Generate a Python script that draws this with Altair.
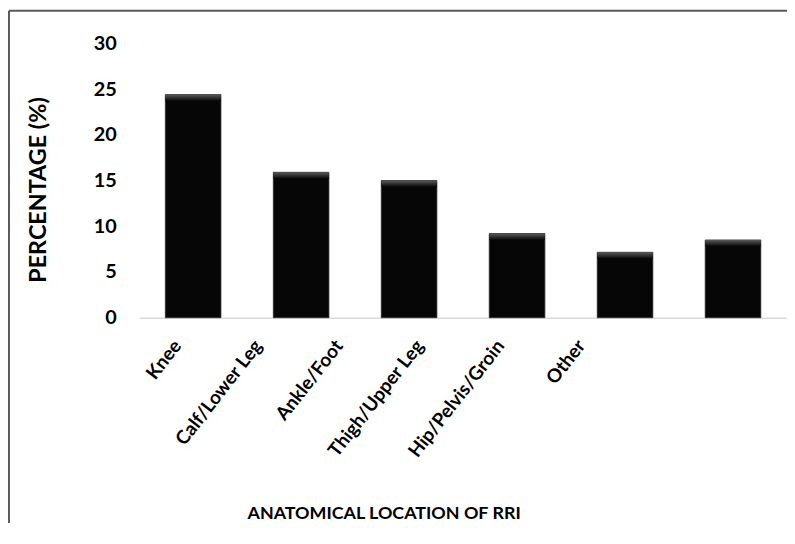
import altair as alt
import pandas as pd

categories = ["Knee", "Calf/Lower Leg", "Ankle/Foot", "Thigh/Upper Leg", "Hip/Pelvis/Groin", "Other"]
values = [24.4, 15.9, 15.0, 9.2, 7.15, 8.5]

df = pd.DataFrame({"location": categories, "pct": values})
FONT = "Lato"

yenc = alt.Y("pct:Q", scale=alt.Scale(domain=[0, 30], nice=False),
             axis=alt.Axis(title="PERCENTAGE (%)", values=[0, 5, 10, 15, 20, 25, 30],
                           ticks=False, domain=False, grid=False, labelPadding=23,
                           labelFont=FONT, labelFontSize=20, labelFontWeight="bold",
                           labelColor="#000000",
                           titleFont=FONT, titleFontSize=23.5, titleFontWeight="bold",
                           titleColor="#000000", titleX=-89, titleY=147,
                           titleAngle=-90, titleAnchor="middle"))

xbar = alt.X("location:N", sort=categories,
             scale=alt.Scale(paddingInner=0.485, paddingOuter=0.2425),
             axis=alt.Axis(title=None, labels=False, ticks=False, orient="bottom",
                           domainColor="#d9d9d9", domainWidth=1.5))

bars = alt.Chart(df).mark_bar(color="#060606", stroke="#2a2a2a", strokeWidth=0.8).encode(
    x=xbar, y=yenc,
)

# light bevel along the top of each bar
bevel = alt.Chart(df).transform_calculate(top2="datum.pct - 0.7").mark_bar(
    color=alt.Gradient(gradient="linear", x1=0, y1=0, x2=0, y2=1,
                       stops=[alt.GradientStop(color="#5a5a5a", offset=0),
                              alt.GradientStop(color="#060606", offset=1)])
).encode(x=xbar, y=alt.Y("pct:Q"), y2="top2:Q")

# category labels sit on a narrower scale, as in the original figure
labels = alt.Chart(df).mark_point(opacity=0).encode(
    x=alt.X("location:N", sort=categories,
            scale=alt.Scale(type="point", range=[31, 437.5], padding=0),
            axis=alt.Axis(title="ANATOMICAL LOCATION OF RRI", labelAngle=-52,
                          labelAlign="right", labelBaseline="top", orient="bottom",
                          labelPadding=19, domain=False, ticks=False,
                          labelFont=FONT, labelFontSize=19, labelFontWeight="bold",
                          labelColor="#000000",
                          titleFont=FONT, titleFontSize=18, titleFontWeight="bold",
                          titleColor="#000000", titleX=246, titleY=202,
                          titleAnchor="middle", titleBaseline="alphabetic")),
)

frame = pd.DataFrame({"a": [0]})
left_line = alt.Chart(frame).mark_rule(color="#5a5a5a", strokeWidth=2, clip=False).encode(
    x=alt.value(-131), y=alt.value(-33), y2=alt.value(520))
top_line = alt.Chart(frame).mark_rule(color="#5a5a5a", strokeWidth=2, clip=False).encode(
    x=alt.value(-131), x2=alt.value(660), y=alt.value(-33))

chart = alt.layer(alt.layer(bars, bevel), labels, left_line, top_line).resolve_scale(
    x="independent"
).properties(
    width=652, height=276,
    autosize=alt.AutoSizeParams(type="none"),
    padding={"left": 132, "top": 34, "right": 0, "bottom": 205},
).configure(background="white").configure_view(stroke=None)

chart.save("out.html", embed_options={"renderer": "svg", "actions": False})
